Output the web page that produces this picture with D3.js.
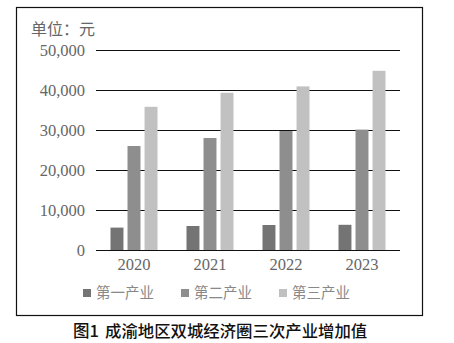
<!DOCTYPE html>
<html>
<head>
<meta charset="utf-8">
<script src="https://cdn.jsdelivr.net/npm/d3@7"></script>
<style>
body { margin: 0; background: #fff; }
</style>
</head>
<body>
<script>
// data
var years = ["2020", "2021", "2022", "2023"];
var seriesNames = ["第一产业", "第二产业", "第三产业"];
var primary = [5600, 6000, 6250, 6300];
var secondary = [26000, 28000, 29750, 30100];
var tertiary = [35800, 39300, 40900, 44800];
var yTicks = [0, 10000, 20000, 30000, 40000, 50000];
var colors = ["#747474", "#8e8e8e", "#c1c1c1"];

var series = [primary, secondary, tertiary];

var svg = d3.select("body").append("svg")
    .attr("width", 454)
    .attr("height", 343);

// frame
svg.append("rect")
    .attr("x", 16.5).attr("y", 7.5)
    .attr("width", 406).attr("height", 308)
    .attr("fill", "none")
    .attr("stroke", "#111")
    .attr("stroke-width", 1.2);

var x = d3.scaleBand().domain(years).range([96, 400]);
var inner = d3.scaleBand().domain(d3.range(3)).range([0, 47]).paddingInner(0.24);
var y = d3.scaleLinear().domain([0, 50000]).range([250, 50]);

var serif = "'Liberation Serif', 'DejaVu Serif', serif";
var cjk = "'Noto Sans CJK SC', sans-serif";

// gridlines
svg.selectAll(".grid").data(yTicks).enter().append("line")
    .attr("x1", 96).attr("x2", 400)
    .attr("y1", function(d){ return Math.round(y(d)) + 0.5; })
    .attr("y2", function(d){ return Math.round(y(d)) + 0.5; })
    .attr("stroke", "#111").attr("stroke-width", 1);

// y tick labels
svg.selectAll(".ytick").data(yTicks).enter().append("text")
    .attr("x", 85)
    .attr("y", function(d){ return y(d) + 6; })
    .attr("text-anchor", "end")
    .attr("font-family", serif)
    .attr("font-size", 16.5)
    .attr("fill", "#666")
    .text(function(d){ return d3.format(",")(d); });

// bars
series.forEach(function(vals, si){
    svg.selectAll(".bar" + si).data(vals).enter().append("rect")
        .attr("x", function(d, i){ return x(years[i]) + x.bandwidth()/2 - 23.5 + inner(si); })
        .attr("y", function(d){ return y(d); })
        .attr("width", inner.bandwidth())
        .attr("height", function(d){ return y(0) - y(d); })
        .attr("fill", colors[si]);
});

// x labels
svg.selectAll(".xlab").data(years).enter().append("text")
    .attr("x", function(d){ return x(d) + x.bandwidth()/2; })
    .attr("y", 270)
    .attr("text-anchor", "middle")
    .attr("font-family", serif)
    .attr("font-size", 16.5)
    .attr("fill", "#666")
    .text(function(d){ return d; });

// unit
svg.append("text")
    .attr("x", 31).attr("y", 35)
    .attr("font-family", cjk)
    .attr("font-size", 16)
    .attr("fill", "#666")
    .text("单位：元");

// legend
var legX = [83, 181, 279];
seriesNames.forEach(function(name, i){
    svg.append("rect")
        .attr("x", legX[i]).attr("y", 289)
        .attr("width", 8).attr("height", 8)
        .attr("fill", colors[i]);
    svg.append("text")
        .attr("x", legX[i] + 13).attr("y", 298)
        .attr("font-family", cjk)
        .attr("font-size", 14.5)
        .attr("fill", "#888")
        .text(name);
});

// caption
svg.append("text")
    .attr("x", 73).attr("y", 337)
    .attr("font-family", cjk)
    .attr("font-size", 16.5)
    .attr("font-weight", 500)
    .attr("fill", "#111")
    .text("图1");
svg.append("text")
    .attr("x", 105).attr("y", 337)
    .attr("font-family", cjk)
    .attr("font-size", 16.4)
    .attr("font-weight", 500)
    .attr("fill", "#111")
    .text("成渝地区双城经济圈三次产业增加值");
</script>
</body>
</html>
